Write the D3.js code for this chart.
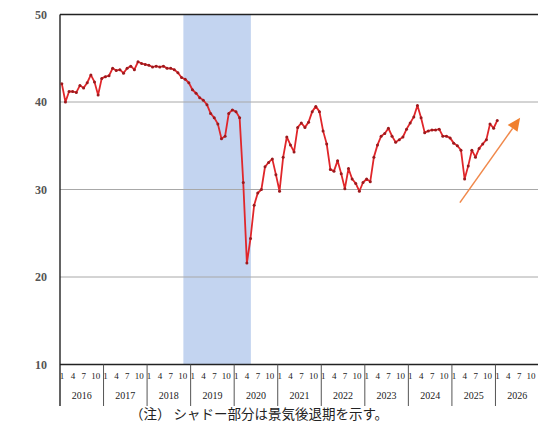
<!DOCTYPE html>
<html>
<head>
<meta charset="utf-8">
<script src="https://cdn.jsdelivr.net/npm/d3@7"></script>
<style>
  body { margin: 0; background: #fff; }
  svg { display: block; }
</style>
</head>
<body>
<svg id="chart" width="538" height="423"></svg>
<script>
// monthly values, Jan 2016 .. Jan 2026
var values2016 = [42.1, 40.0, 41.2, 41.2, 41.1, 41.9, 41.6, 42.2, 43.1, 42.3, 40.8, 42.7];
var values2017 = [42.9, 43.0, 43.85, 43.6, 43.7, 43.3, 43.85, 44.1, 43.7, 44.6, 44.4, 44.3];
var values2018 = [44.2, 44.0, 44.1, 44.0, 44.1, 43.85, 43.85, 43.7, 43.35, 42.8, 42.6, 42.2];
var values2019 = [41.4, 41.0, 40.5, 40.2, 39.7, 38.7, 38.2, 37.5, 35.8, 36.1, 38.7, 39.1];
var values2020 = [38.9, 38.2, 30.8, 21.6, 24.4, 28.2, 29.6, 30.0, 32.6, 33.1, 33.5, 31.7];
var values2021 = [29.8, 33.7, 36.0, 35.1, 34.3, 37.1, 37.6, 37.1, 37.7, 38.9, 39.5, 38.9];
var values2022 = [36.7, 35.2, 32.3, 32.1, 33.3, 31.8, 30.1, 32.4, 31.2, 30.7, 29.8, 30.8];
var values2023 = [31.2, 30.9, 33.7, 35.1, 36.1, 36.4, 37.0, 36.1, 35.4, 35.7, 36.0, 36.9];
var values2024 = [37.6, 38.3, 39.6, 38.2, 36.5, 36.7, 36.8, 36.8, 36.9, 36.1, 36.1, 35.9];
var values2025 = [35.3, 35.0, 34.5, 31.2, 32.7, 34.5, 33.7, 34.7, 35.2, 35.7, 37.5, 37.0];
var values2026 = [37.9];

var years = [2016, 2017, 2018, 2019, 2020, 2021, 2022, 2023, 2024, 2025, 2026];
var monthTicks = [1, 4, 7, 10];
var yTicks = [10, 20, 30, 40, 50];
var gridTicks = [20, 30, 40];
// recession shading, month index (0 = Jan 2016): Oct 2018 .. May 2020
var recession = [33, 52];
// trend arrow, [monthIndex, value]
var arrowFrom = [110.2, 28.5];
var arrowTo = [126.8, 38.2];
var note = "（注） シャドー部分は景気後退期を示す。";

var series = [].concat(values2016, values2017, values2018, values2019, values2020,
  values2021, values2022, values2023, values2024, values2025, values2026);

var svg = d3.select("#chart");
var plotL = 60, plotR = 539, plotT = 14.5, plotB = 364.5;

var x = d3.scaleLinear().domain([0, years.length * 12]).range([plotL, plotR]);
var y = d3.scaleLinear().domain([10, 50]).range([plotB, plotT]);

// shade
svg.append("rect")
  .attr("x", x(recession[0] + 1))
  .attr("y", plotT)
  .attr("width", x(recession[1] + 0.6) - x(recession[0] + 1))
  .attr("height", plotB - plotT)
  .attr("fill", "#c3d4f0");

// grid
svg.append("g").selectAll("line")
  .data(gridTicks)
  .enter().append("line")
  .attr("x1", plotL).attr("x2", 538)
  .attr("y1", function(d){ return y(d); })
  .attr("y2", function(d){ return y(d); })
  .attr("stroke", "#a8a8a8")
  .attr("stroke-width", 1);

// frame
svg.append("line").attr("x1", plotL).attr("x2", 538).attr("y1", plotT).attr("y2", plotT)
  .attr("stroke", "#222").attr("stroke-width", 1.6);
svg.append("line").attr("x1", plotL).attr("x2", 538).attr("y1", plotB).attr("y2", plotB)
  .attr("stroke", "#222").attr("stroke-width", 1.4);
svg.append("line").attr("x1", plotL).attr("x2", plotL).attr("y1", plotT).attr("y2", 406)
  .attr("stroke", "#222").attr("stroke-width", 1.4);

// y labels
svg.append("g").selectAll("text")
  .data(yTicks)
  .enter().append("text")
  .attr("x", 41)
  .attr("y", function(d){ return y(d) + 4; })
  .attr("text-anchor", "middle")
  .attr("font-family", "Liberation Serif, serif")
  .attr("font-size", 12)
  .attr("font-weight", "bold")
  .attr("fill", "#555")
  .text(function(d){ return d; });

// year separators
svg.append("g").selectAll("line")
  .data(years.slice(1))
  .enter().append("line")
  .attr("x1", function(d, i){ return x((i + 1) * 12); })
  .attr("x2", function(d, i){ return x((i + 1) * 12); })
  .attr("y1", plotB).attr("y2", 406)
  .attr("stroke", "#555").attr("stroke-width", 1);

// month labels
var monthG = svg.append("g")
  .attr("font-family", "Liberation Serif, serif")
  .attr("font-size", 9)
  .attr("fill", "#222")
  .attr("text-anchor", "middle");
years.forEach(function(yr, k){
  monthTicks.forEach(function(m){
    monthG.append("text")
      .attr("x", x(k * 12 + m - 1) + (m === 10 ? 3 : 2))
      .attr("y", 379)
      .text(m);
  });
});

// year labels
svg.append("g").selectAll("text")
  .data(years)
  .enter().append("text")
  .attr("x", function(d, i){ return x(i * 12 + 6); })
  .attr("y", 399)
  .attr("text-anchor", "middle")
  .attr("font-family", "Liberation Serif, serif")
  .attr("font-size", 10)
  .attr("fill", "#222")
  .text(function(d){ return d; });

// line
var line = d3.line()
  .x(function(d, i){ return x(i + 0.5); })
  .y(function(d){ return y(d); });

svg.append("path")
  .datum(series)
  .attr("d", line)
  .attr("fill", "none")
  .attr("stroke", "#e0262a")
  .attr("stroke-width", 1.8)
  .attr("stroke-linejoin", "round");

svg.append("g").selectAll("circle")
  .data(series)
  .enter().append("circle")
  .attr("cx", function(d, i){ return x(i + 0.5); })
  .attr("cy", function(d){ return y(d); })
  .attr("r", 1.5)
  .attr("fill", "#9c1a1e");

// arrow
var ax1 = x(arrowFrom[0]), ay1 = y(arrowFrom[1]);
var ax2 = x(arrowTo[0]), ay2 = y(arrowTo[1]);
var ang = Math.atan2(ay2 - ay1, ax2 - ax1);
var headLen = 13, headW = 6;
var bx = ax2 - headLen * Math.cos(ang), by = ay2 - headLen * Math.sin(ang);
svg.append("line")
  .attr("x1", ax1).attr("y1", ay1).attr("x2", bx).attr("y2", by)
  .attr("stroke", "#f0884a").attr("stroke-width", 1.5);
svg.append("path")
  .attr("d", "M" + ax2 + "," + ay2 +
    "L" + (bx + headW * Math.sin(ang)) + "," + (by - headW * Math.cos(ang)) +
    "L" + (bx - headW * Math.sin(ang)) + "," + (by + headW * Math.cos(ang)) + "Z")
  .attr("fill", "#f07f2e");

// note
svg.append("text")
  .attr("x", 259)
  .attr("y", 419)
  .attr("text-anchor", "middle")
  .attr("font-family", "Noto Sans CJK JP, sans-serif")
  .attr("font-size", 13.5)
  .attr("fill", "#222")
  .text(note);
</script>
</body>
</html>
